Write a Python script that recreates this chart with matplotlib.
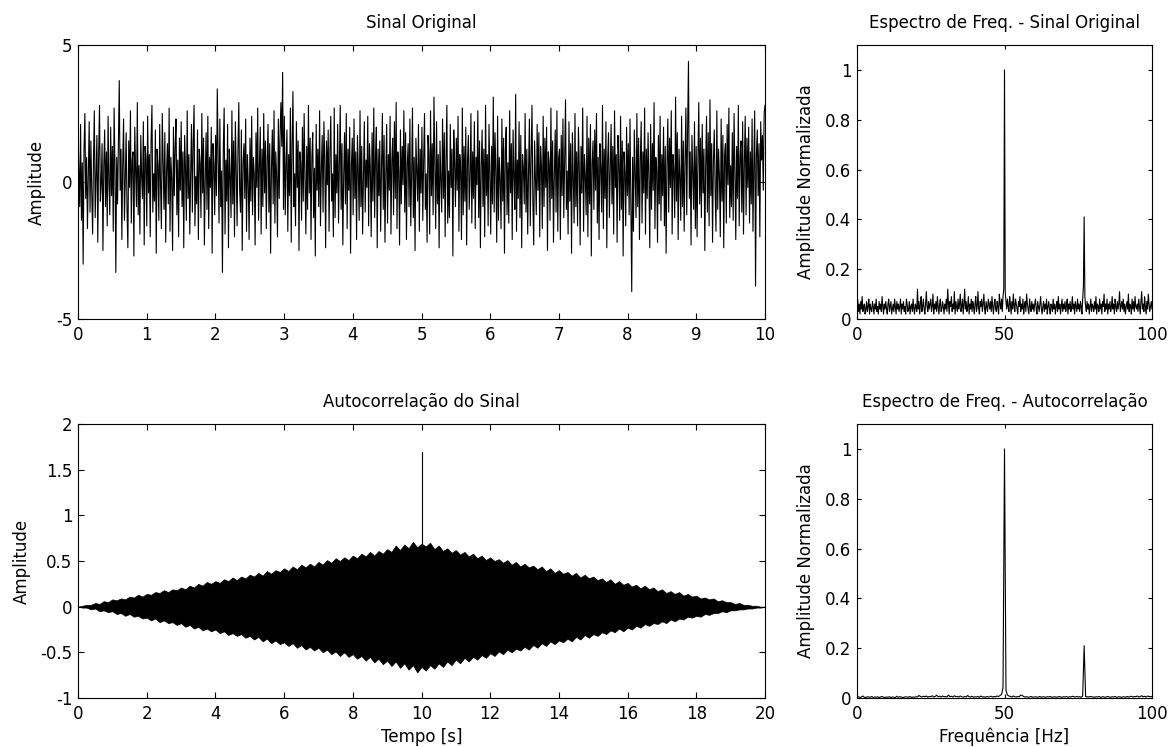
import numpy as np
import matplotlib
matplotlib.use("Agg")
import matplotlib.pyplot as plt
from matplotlib.ticker import FormatStrFormatter

plt.rcParams['font.family'] = ['DejaVu Sans']
plt.rcParams['font.size'] = 12
plt.rcParams['axes.unicode_minus'] = False

# original signal, in tenths of a unit, 0..10 s
sinal_dec = [
    18, 4, -9, 21, -14, 7, -30, 12, 25, -6, 9, -17, 3, 22, -11, 15, -4, -19, 8, 26,
    -13, 2, 17, -22, 10, 28, -7, -1, 14, -25, 6, 19, -9, 11, -16, 24, 0, -12, 20, -5,
    13, -18, 27, 5, -33, 9, -8, 16, 37, -3, 12, -21, 7, 23, -14, 1, 18, -10, -24, 15,
    -2, 26, -15, 8, 11, -27, 20, 4, -9, 29, -12, 6, -19, 17, 2, -6, 22, -23, 13, 9,
    -16, 24, -4, 10, -20, 15, 28, -11, 3, -7, 19, -26, 12, 6, -14, 21, -1, -17, 25, 7,
    -10, 18, -22, 4, 14, -8, 27, -18, 9, 1, -25, 20, -5, 13, 23, -12, 8, -20, 16, -3,
    22, -9, 11, -24, 17, 5, -14, 26, -6, 10, -19, 3, 21, -11, 15, 28, -16, 2, -8, 19,
    -21, 12, 7, -13, 25, -4, 16, -23, 1, 18, -10, 24, -17, 9, -2, 20, -26, 14, 6, -12,
    17, -5, 34, 10, -15, 23, -9, 4, -33, 13, 27, -19, 8, -7, 21, -24, 12, 2, -13, 26,
    -8, 15, -20, 22, 5, -16, 11, 29, -3, -11, 19, -25, 7, 14, -6, 23, -18, 10, 0, -21,
    16, -7, 24, -12, 9, 3, -23, 18, -2, 27, -14, 6, 20, -19, 12, -9, 25, -4, 15, -17,
    8, 21, -11, 14, -26, 5, 19, -8, 26, -15, 11, 2, -20, 23, -6, 17, 29, 13, 40, -10,
    24, -12, 6, 19, -18, 10, -5, 27, -22, 14, 33, -9, 3, -16, 22, -2, 15, -25, 11, 7,
    -14, 20, -7, 25, 1, -19, 13, -10, 28, -4, 16, -21, 9, 18, -13, 5, -27, 21, -3, 12,
    -9, 26, -16, 4, 17, -11, 22, 8, -24, 15, -1, 19, -18, 11, 24, -7, 3, -20, 27, -13,
    10, -4, 21, -15, 7, 28, -10, 14, -23, 2, 18, -8, 25, -17, 12, -3, 20, -26, 6, 16,
    -12, 23, -6, 11, -21, 17, 4, -14, 26, -9, 13, -19, 1, 22, -11, 8, -2, 24, -16, 14,
    5, -20, 18, -7, 27, -13, 9, 20, -24, 12, -5, 15, -18, 6, 25, -10, 17, -22, 3, 21,
    -15, 10, -3, 24, -19, 8, 16, -12, 22, -6, 29, -17, 11, 4, -23, 19, -8, 13, -1, 26,
    -11, 18, -21, 7, 14, -9, 23, -16, 2, 27, -13, 9, -25, 16, 5, -7, 21, -18, 12, -4,
    20, -14, 8, 25, -10, 3, -22, 17, 11, -19, 26, -5, 14, -12, 31, 6, -17, 22, -8, 10,
    -24, 15, 1, -11, 23, -6, 18, -20, 9, 28, -15, 4, -13, 21, -2, 12, -27, 19, 7, -9,
    16, -3, 24, -18, 10, 5, -21, 27, -12, 13, -7, 20, -23, 8, 17, -10, 2, 25, -15, 11,
    -6, 22, -17, 9, -1, 26, -13, 15, -24, 6, 19, -9, 12, -20, 28, -5, 10, -16, 21, 3,
    -19, 13, -8, 31, -11, 18, 4, -22, 24, -14, 9, 1, -17, 23, -7, 16, -26, 11, 20, -12,
    7, -15, 26, -4, 14, -21, 19, 2, -10, 32, -18, 8, -6, 22, -13, 17, -24, 10, 5, -8,
    25, -11, 12, -19, 4, 23, -16, 9, 28, -7, -23, 15, 1, -12, 21, -3, 18, -20, 13, 6,
    -17, 24, -9, 16, -2, 20, -25, 11, 7, -14, 27, -6, 15, -22, 3, 19, -11, 26, -18, 9,
    12, -21, 17, -5, 23, -13, 8, 30, -10, 4, -19, 22, -7, 14, -26, 18, 1, -15, 25, -9,
    11, -16, 20, 6, -23, 13, -4, 27, -18, 10, 2, -12, 24, -20, 16, -8, 21, -27, 7, 15,
    -10, 19, -3, 25, -15, 9, -21, 14, 5, -11, 28, -17, 12, -6, 22, -24, 8, 18, -13, 3,
    21, -8, 13, -19, 26, -2, 10, -22, 17, 7, -14, 24, -10, 15, -27, 11, 4, -16, 20, -5,
    14, -12, 23, -7, -40, 9, -18, 19, 3, -13, 25, -9, 16, -21, 8, 22, -15, 11, -4, 27,
    -19, 12, -6, 18, 1, -24, 21, -10, 14, -3, 29, -17, 9, 5, -22, 17, -8, 24, -14, 10,
    -5, 20, -16, 13, -26, 7, 23, -11, 16, -2, 26, -19, 10, 4, -13, 31, -7, 18, -21, 12,
    2, -14, 24, -9, 15, -18, 8, 27, -12, 19, 44, -6, 11, -23, 17, 3, -10, 22, -17, 13,
    -20, 9, 29, -8, 16, -13, 21, -4, 12, -25, 6, 24, -11, 18, -16, 30, -5, 14, -22, 8,
    19, -3, -18, 26, -10, 12, 2, -20, 23, -7, 17, -24, 10, 14, -15, 21, -1, 27, -13, 6,
    -9, 18, -14, 25, 4, -21, 13, -6, 28, -16, 9, 15, -11, 22, -19, 7, 24, -12, 16, -2,
    20, -15, 11, -8, 23, -18, 6, 26, -38, 10, 19, -5, 14, -20, 22, 8, 17, -3, 25, 28,
]

# normalised spectrum of the original signal, in hundredths, 0..100 Hz every 0.25 Hz
espectro_sinal_pct = [
    5, 8, 3, 6, 2, 7, 4, 9, 3, 5, 6, 2, 4, 7, 3, 5, 8, 2, 6, 4,
    3, 7, 5, 2, 6, 4, 8, 3, 5, 2, 7, 4, 6, 3, 9, 5, 2, 6, 4, 7,
    4, 2, 6, 8, 3, 5, 7, 2, 4, 6, 3, 8, 5, 2, 7, 4, 6, 3, 5, 8,
    2, 6, 4, 7, 3, 5, 2, 8, 6, 3, 4, 7, 2, 5, 6, 3, 8, 4, 2, 6,
    5, 3, 12, 4, 7, 2, 6, 9, 3, 5, 8, 4, 2, 6, 11, 5, 3, 7, 4, 6,
    8, 3, 5, 10, 2, 6, 4, 7, 3, 9, 5, 2, 6, 8, 3, 4, 7, 5, 2, 6,
    4, 8, 3, 12, 6, 2, 7, 5, 9, 3, 6, 4, 11, 2, 7, 5, 3, 8, 4, 6,
    10, 3, 5, 8, 2, 6, 12, 4, 7, 3, 5, 9, 2, 6, 4, 8, 3, 7, 5, 2,
    6, 9, 3, 5, 11, 4, 2, 7, 5, 8, 3, 6, 10, 4, 2, 7, 5, 3, 8, 6,
    4, 7, 3, 9, 5, 2, 6, 8, 4, 3, 7, 5, 2, 10, 6, 4, 8, 3, 9, 12,
    100, 11, 7, 4, 8, 5, 3, 9, 6, 2, 7, 4, 10, 5, 3, 8, 6, 4, 2, 7,
    5, 9, 3, 6, 4, 8, 2, 5, 7, 3, 10, 6, 4, 2, 8, 5, 3, 7, 4, 6,
    3, 6, 8, 4, 2, 7, 5, 3, 6, 9, 4, 2, 5, 7, 3, 6, 4, 8, 2, 5,
    7, 4, 2, 6, 5, 3, 8, 4, 6, 2, 5, 7, 3, 9, 4, 6, 2, 5, 8, 3,
    6, 4, 7, 3, 5, 8, 2, 6, 4, 7, 3, 5, 9, 4, 6, 2, 7, 5, 3, 8,
    4, 6, 3, 7, 5, 2, 8, 13, 41, 9, 5, 3, 7, 4, 6, 2, 5, 8, 3, 6,
    5, 3, 7, 4, 9, 2, 6, 5, 3, 8, 4, 6, 2, 7, 5, 10, 3, 6, 4, 8,
    2, 6, 4, 7, 3, 5, 9, 4, 6, 2, 8, 5, 3, 7, 4, 6, 11, 3, 5, 7,
    4, 8, 3, 6, 2, 5, 7, 4, 10, 3, 6, 5, 2, 8, 4, 7, 3, 9, 5, 4,
    6, 3, 8, 5, 2, 7, 11, 4, 6, 3, 9, 5, 2, 7, 4, 10, 6, 3, 5, 7,
    4,
]

# normalised spectrum of the autocorrelation, 0..100 Hz every 0.5 Hz
espectro_auto = [
    0.003, 0.005, 0.002, 0.004, 0.008, 0.003, 0.002, 0.005, 0.004, 0.003, 0.006, 0.002, 0.004, 0.003, 0.005, 0.002, 0.004, 0.006, 0.003, 0.002,
    0.004, 0.003, 0.005, 0.002, 0.004, 0.003, 0.002, 0.007, 0.003, 0.005, 0.004, 0.002, 0.003, 0.005, 0.004, 0.003, 0.006, 0.002, 0.004, 0.003,
    0.005, 0.004, 0.010, 0.006, 0.004, 0.007, 0.005, 0.008, 0.004, 0.006, 0.005, 0.009, 0.004, 0.006, 0.011, 0.005, 0.007, 0.004, 0.008, 0.005,
    0.006, 0.004, 0.012, 0.005, 0.007, 0.004, 0.009, 0.005, 0.006, 0.004, 0.008, 0.005, 0.003, 0.006, 0.004, 0.010, 0.005, 0.004, 0.007, 0.003,
    0.005, 0.004, 0.006, 0.003, 0.008, 0.004, 0.005, 0.003, 0.006, 0.004, 0.005, 0.007, 0.004, 0.006, 0.005, 0.008, 0.006, 0.010, 0.014, 0.042,
    1.000, 0.030, 0.012, 0.008, 0.006, 0.004, 0.008, 0.005, 0.004, 0.006, 0.005, 0.012, 0.010, 0.006, 0.004, 0.005, 0.003, 0.004, 0.006, 0.003,
    0.004, 0.005, 0.003, 0.004, 0.006, 0.003, 0.005, 0.004, 0.003, 0.005, 0.004, 0.006, 0.003, 0.004, 0.005, 0.003, 0.004, 0.006, 0.004, 0.003,
    0.005, 0.004, 0.006, 0.003, 0.005, 0.004, 0.007, 0.005, 0.004, 0.006, 0.004, 0.005, 0.003, 0.008, 0.210, 0.006, 0.005, 0.004, 0.006, 0.005,
    0.004, 0.003, 0.005, 0.004, 0.006, 0.003, 0.004, 0.005, 0.003, 0.004, 0.006, 0.004, 0.003, 0.005, 0.004, 0.006, 0.003, 0.004, 0.005, 0.003,
    0.004, 0.005, 0.003, 0.006, 0.004, 0.005, 0.007, 0.004, 0.006, 0.005, 0.008, 0.004, 0.006, 0.009, 0.005, 0.007, 0.004, 0.008, 0.006, 0.005,
    0.006,
]

# autocorrelation: upper / lower envelope of the dense 50 Hz oscillation, 0..20 s every 0.125 s
auto_sup = [
    0.00, 0.01, 0.02, 0.02, 0.04, 0.03, 0.06, 0.05, 0.08, 0.07, 0.09, 0.08, 0.11, 0.10, 0.13, 0.11, 0.14, 0.13, 0.16, 0.15,
    0.18, 0.16, 0.19, 0.18, 0.21, 0.19, 0.23, 0.21, 0.25, 0.23, 0.27, 0.25, 0.28, 0.26, 0.30, 0.28, 0.32, 0.29, 0.33, 0.31,
    0.35, 0.33, 0.37, 0.34, 0.39, 0.36, 0.40, 0.38, 0.42, 0.39, 0.44, 0.41, 0.46, 0.43, 0.47, 0.44, 0.49, 0.46, 0.51, 0.48,
    0.53, 0.50, 0.54, 0.51, 0.56, 0.53, 0.58, 0.55, 0.60, 0.56, 0.61, 0.58, 0.63, 0.60, 0.67, 0.62, 0.68, 0.64, 0.71, 0.65,
    0.69,
    0.66, 0.70, 0.63, 0.67, 0.61, 0.64, 0.59, 0.62, 0.57, 0.60, 0.55, 0.58, 0.53, 0.56, 0.51, 0.54, 0.50, 0.52, 0.48, 0.51,
    0.46, 0.49, 0.44, 0.47, 0.43, 0.45, 0.41, 0.44, 0.39, 0.42, 0.37, 0.40, 0.36, 0.38, 0.34, 0.37, 0.32, 0.35, 0.31, 0.33,
    0.29, 0.31, 0.27, 0.30, 0.25, 0.28, 0.24, 0.26, 0.22, 0.24, 0.20, 0.23, 0.19, 0.21, 0.17, 0.19, 0.15, 0.17, 0.14, 0.16,
    0.12, 0.14, 0.11, 0.12, 0.09, 0.10, 0.08, 0.09, 0.06, 0.07, 0.05, 0.05, 0.03, 0.04, 0.02, 0.02, 0.01, 0.01, 0.00, 0.00,
]
auto_inf = [
    0.00, -0.01, -0.01, -0.03, -0.02, -0.05, -0.04, -0.06, -0.05, -0.08, -0.07, -0.10, -0.08, -0.11, -0.10, -0.13, -0.12, -0.15, -0.13, -0.17,
    -0.15, -0.18, -0.17, -0.20, -0.18, -0.22, -0.20, -0.24, -0.22, -0.26, -0.24, -0.27, -0.25, -0.29, -0.27, -0.31, -0.29, -0.32, -0.30, -0.34,
    -0.32, -0.36, -0.33, -0.38, -0.35, -0.40, -0.37, -0.41, -0.39, -0.43, -0.40, -0.45, -0.42, -0.47, -0.44, -0.48, -0.45, -0.50, -0.47, -0.52,
    -0.49, -0.54, -0.50, -0.55, -0.52, -0.57, -0.54, -0.59, -0.55, -0.61, -0.57, -0.63, -0.59, -0.65, -0.60, -0.67, -0.62, -0.69, -0.64, -0.72,
    -0.66,
    -0.70, -0.64, -0.68, -0.62, -0.66, -0.60, -0.64, -0.58, -0.62, -0.56, -0.60, -0.55, -0.58, -0.53, -0.56, -0.51, -0.54, -0.49, -0.52, -0.47,
    -0.50, -0.46, -0.48, -0.44, -0.47, -0.42, -0.45, -0.40, -0.43, -0.38, -0.41, -0.37, -0.39, -0.35, -0.38, -0.33, -0.36, -0.31, -0.34, -0.30,
    -0.32, -0.28, -0.30, -0.26, -0.28, -0.24, -0.27, -0.23, -0.25, -0.21, -0.23, -0.19, -0.21, -0.18, -0.19, -0.16, -0.18, -0.14, -0.16, -0.13,
    -0.14, -0.11, -0.12, -0.10, -0.11, -0.08, -0.09, -0.07, -0.07, -0.05, -0.06, -0.04, -0.04, -0.03, -0.03, -0.02, -0.02, -0.01, -0.01, 0.00,
]
pico_t = 10.0
pico_val = 1.69

sinal = np.array(sinal_dec) / 10.0
espectro_sinal = np.array(espectro_sinal_pct) / 100.0
t_sinal = np.linspace(0, 10, len(sinal))
freq1 = np.arange(len(espectro_sinal)) * 0.25
freq2 = np.arange(len(espectro_auto)) * 0.5
lag = np.arange(len(auto_sup)) * 0.125


def estilo(ax, ticklen):
    ax.tick_params(direction='in', top=True, right=True, length=ticklen, width=0.8)
    ax.tick_params(axis='x', pad=5)
    ax.tick_params(axis='y', pad=4)
    for s in ax.spines.values():
        s.set_linewidth(0.8)
    ax.xaxis.set_major_formatter(FormatStrFormatter('%g'))
    ax.yaxis.set_major_formatter(FormatStrFormatter('%g'))


fig = plt.figure(figsize=(11.68, 7.47), dpi=100)
W, H = 1168.0, 747.0

# top left: original signal
ax1 = fig.add_axes([78 / W, 1 - 319 / H, 687 / W, 274 / H])
ax1.plot(t_sinal, sinal, color='k', lw=0.8)
ax1.set_xlim(0, 10)
ax1.set_ylim(-5, 5)
ax1.set_xticks(range(0, 11))
ax1.set_yticks([-5, 0, 5])
ax1.set_title('Sinal Original', pad=12.5, fontsize=12)
ax1.set_ylabel('Amplitude', labelpad=7)
estilo(ax1, 4)

# top right: spectrum of the original signal
ax2 = fig.add_axes([857 / W, 1 - 319 / H, 295 / W, 274 / H])
ax2.plot(freq1, espectro_sinal, color='k', lw=0.8)
ax2.set_xlim(0, 100)
ax2.set_ylim(0, 1.1)
ax2.set_xticks([0, 50, 100])
ax2.set_yticks([0, 0.2, 0.4, 0.6, 0.8, 1])
ax2.set_title('Espectro de Freq. - Sinal Original', pad=12.5, fontsize=12)
ax2.set_ylabel('Amplitude Normalizada', labelpad=7)
estilo(ax2, 3)

# bottom left: autocorrelation
ax3 = fig.add_axes([78 / W, 1 - 698 / H, 687 / W, 274 / H])
ax3.fill_between(lag, auto_inf, auto_sup, color='k', lw=0.5)
ax3.plot([pico_t, pico_t], [0, pico_val], color='k', lw=0.8)
ax3.set_xlim(0, 20)
ax3.set_ylim(-1, 2)
ax3.set_xticks(range(0, 21, 2))
ax3.set_yticks([-1, -0.5, 0, 0.5, 1, 1.5, 2])
ax3.set_title('Autocorrelação do Sinal', pad=12, fontsize=12)
ax3.set_ylabel('Amplitude', labelpad=7)
ax3.set_xlabel('Tempo [s]', labelpad=3.5)
estilo(ax3, 4)

# bottom right: spectrum of the autocorrelation
ax4 = fig.add_axes([857 / W, 1 - 698 / H, 295 / W, 274 / H])
ax4.plot(freq2, espectro_auto, color='k', lw=0.8)
ax4.set_xlim(0, 100)
ax4.set_ylim(0, 1.1)
ax4.set_xticks([0, 50, 100])
ax4.set_yticks([0, 0.2, 0.4, 0.6, 0.8, 1])
ax4.set_title('Espectro de Freq. - Autocorrelação', pad=12, fontsize=12)
ax4.set_ylabel('Amplitude Normalizada', labelpad=7)
ax4.set_xlabel('Frequência [Hz]', labelpad=3.5)
estilo(ax4, 3)

fig.savefig('out.png', dpi=100)
